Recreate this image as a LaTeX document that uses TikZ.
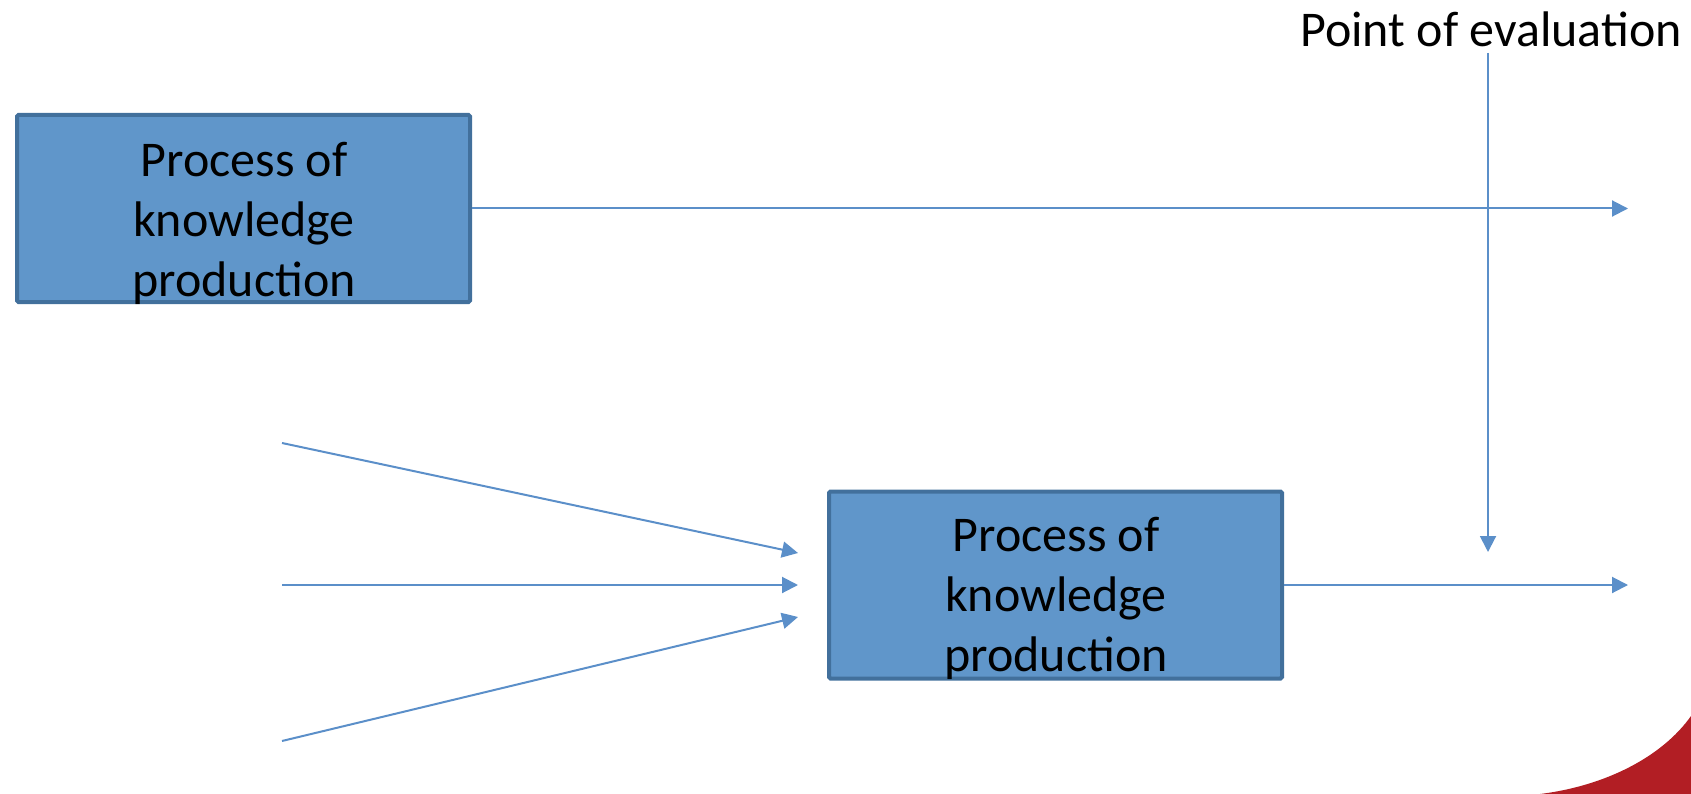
\documentclass[tikz,border=0pt]{standalone}
\usepackage{fontspec}
\setmainfont{Carlito}
\usetikzlibrary{arrows.meta}
\definecolor{boxfill}{RGB}{96,150,202}
\definecolor{boxline}{RGB}{66,112,156}
\definecolor{arrowcol}{RGB}{91,143,201}
\definecolor{cornerred}{RGB}{178,30,36}
\tikzset{
  procbox/.style={draw=boxline, fill=boxfill, line width=4pt, rounded corners=1.5pt,
    minimum width=453pt, minimum height=187pt, inner sep=0pt},
  boxtext/.style={align=center, inner sep=0pt, anchor=north, font=\fontsize{50}{60}\selectfont},
  flow/.style={draw=arrowcol, line width=2pt, -{Triangle[length=16pt,width=16pt]}},
}
\begin{document}
\begin{tikzpicture}[x=1pt,y=-1pt]
\useasboundingbox (0,0) rectangle (1691,794);
% red corner
\fill[cornerred] (1540,794) .. controls (1605,786) and (1662,757) .. (1691,716) -- (1691,794) -- cycle;
% boxes
\node[procbox] (box1) at (243.5,208.5) {};
\node[boxtext] (t1) at (244,142) {Process of\\knowledge\\production};
\node[procbox] (box2) at (1055.5,585) {};
\node[boxtext] (t2) at (1056,517) {Process of\\knowledge\\production};
% label
\node[anchor=base west, inner sep=0pt, font=\fontsize{50}{60}\selectfont] (pe) at (1300,47) {Point of evaluation};
% coordinates
\coordinate (o1) at (1628,208.5);
\coordinate (o2) at (1628,585);
\coordinate (vs) at (1488,53);
\coordinate (ve) at (1488,552);
\coordinate (i1s) at (282,443);
\coordinate (i1e) at (798,553);
\coordinate (i2s) at (282,585);
\coordinate (i2e) at (798,585);
\coordinate (i3s) at (282,741);
\coordinate (i3e) at (798,617);
% connectors
\draw[flow] (box1.east) -- (o1);
\draw[flow] (box2.east) -- (o2);
\draw[flow] (vs) -- (ve);
\draw[flow] (i1s) -- (i1e);
\draw[flow] (i2s) -- (i2e);
\draw[flow] (i3s) -- (i3e);
\end{tikzpicture}
\end{document}
